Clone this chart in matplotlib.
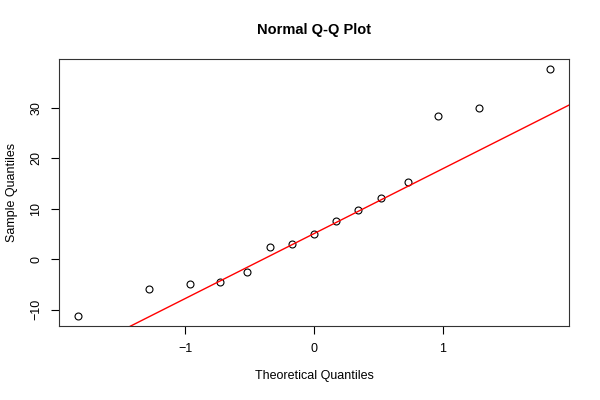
import numpy as np
from matplotlib import pyplot as plt

plt.rcParams['font.family'] = ['Liberation Sans', 'DejaVu Sans']

# sample values (sorted)
sample = [-11.3, -6.0, -5.0, -4.6, -2.65, 2.4, 3.0, 5.05,
          7.5, 9.7, 12.1, 15.35, 28.3, 30.0, 37.7]
# theoretical normal quantiles, ppoints(15)
theoretical = [-1.834, -1.282, -0.967, -0.728, -0.524, -0.341, -0.168, 0.0,
               0.168, 0.341, 0.524, 0.728, 0.967, 1.282, 1.834]
xticks = [-1, 0, 1]
yticks = [-10, 0, 10, 20, 30]

fig = plt.figure(figsize=(6, 4), dpi=100)
ax = fig.add_axes([59/600, 1-326/400, 510/600, 267/400])

ax.plot(theoretical, sample, 'o', mfc='none', mec='black', ms=5, mew=0.8)

# qqline through the quartiles
y = np.array(sample)
q1, q3 = np.percentile(y, [25, 75])
z = 0.6744898
slope = (q3 - q1) / (2 * z)
intercept = q1 + slope * z

def pad(lo, hi):
    d = (hi - lo) * 0.04
    return lo - d, hi + d

xlim = pad(min(theoretical), max(theoretical))
ylim = pad(min(sample), max(sample))
xs = np.array(xlim)
ax.plot(xs, intercept + slope * xs, color='red', lw=1)
ax.set_xlim(xlim)
ax.set_ylim(ylim)

ax.set_xticks(xticks)
ax.set_yticks(yticks)
ax.tick_params(direction='out', length=6, width=0.8, labelsize=9, pad=6)
for lab in ax.get_yticklabels():
    lab.set_rotation(90)
    lab.set_va('center')
for s in ax.spines.values():
    s.set_linewidth(0.8)
    s.set_color('#333333')

fig.text(314/600, 1-376/400, 'Theoretical Quantiles', ha='center', va='center',
         fontsize=9)
fig.text(12/600, 1-192/400, 'Sample Quantiles', ha='center', va='center',
         rotation=90, fontsize=9)
fig.text(314/600, 1-30/400, 'Normal Q-Q Plot', ha='center', va='center',
         fontsize=10.5, fontweight='bold')

fig.savefig('out.png', dpi=100)
